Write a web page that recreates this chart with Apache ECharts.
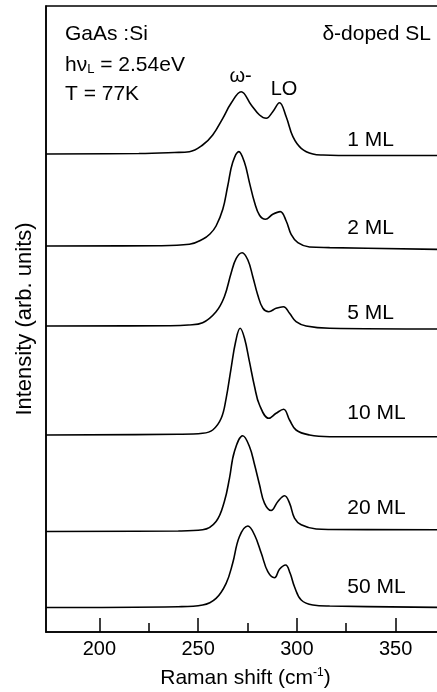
<!DOCTYPE html>
<html>
<head>
<meta charset="utf-8">
<script src="https://cdn.jsdelivr.net/npm/echarts@6/dist/echarts.min.js"></script>
<style>html,body{margin:0;padding:0;background:#fff;}#c{width:437px;height:692px;}</style>
</head>
<body>
<div id="c"></div>
<script>
// Raman shift (cm-1) sample points and intensity (arb. units, relative to each trace's baseline)
const spectrumNames = ['1 ML', '2 ML', '5 ML', '10 ML', '20 ML', '50 ML'];
const baselineOffsets = [478, 386, 306, 197, 100.5, 24.5];

const shift1 = [173, 220, 238, 245.6, 252.3, 257.4, 262.5, 266.7, 271.8, 276.9, 281.1, 284.5, 287.8, 291.2, 294.6, 298, 302.2, 308.1, 313.2, 330, 375];
const int1   = [0, 0.5, 1.5, 2.3, 9, 19, 35.7, 50.7, 62.3, 49, 39, 35.7, 42.3, 51.3, 37.3, 17.3, 5.7, 0, -1, -1.5, -1.5];

const shift2 = [173, 230, 245.6, 252.3, 256, 259.1, 262.5, 265, 267.5, 270.6, 273.5, 276, 278.6, 281.1, 284.1, 287.8, 291.6, 294.6, 297.1, 300.5, 306.4, 316.6, 375];
const int2   = [0, 0.3, 1.7, 6.7, 12, 20, 36.7, 60, 83.4, 94.4, 83.4, 63.4, 43.4, 30.7, 26.7, 31.7, 34.4, 25, 11.7, 3.4, -1, -1.6, -3.5];

const shift5 = [173, 235, 245, 252.3, 259.1, 263.3, 266.7, 269.3, 272.3, 275.2, 277.7, 280.2, 282.8, 285.8, 289.5, 293.2, 296.3, 299.6, 304.7, 316.6, 375];
const int5   = [0, 0.3, 1, 3.3, 14.3, 29.3, 52.7, 67.7, 73.3, 66, 49.3, 31, 17.7, 14.3, 17.7, 19.3, 12.7, 4.3, 0, -2.3, -3];

const shift10 = [173, 240, 252.3, 257.4, 261.7, 264.2, 266.7, 269, 271.3, 273.5, 276, 278.6, 281.1, 285.8, 289.5, 293.3, 296.3, 299.6, 306.4, 316.6, 375];
const int10   = [0, 0.7, 1.7, 5, 16.7, 36.7, 66.7, 93.3, 106.7, 96.7, 73.3, 48.3, 30, 16.7, 21.7, 25.7, 15, 5, 0, -1.7, -1.7];

const shift20 = [173, 240, 252.3, 259.1, 263.3, 265.9, 268.4, 272.6, 276, 278.6, 281.1, 283.6, 287, 290.4, 293.8, 296.3, 298.8, 302.2, 309.8, 316.6, 375];
const int20   = [0, 0.5, 1.7, 10, 30, 53.4, 80, 95.7, 85, 66.7, 46.7, 28.4, 21, 30, 35.7, 28.4, 13.4, 6.7, 2.5, 2, 1.7];

const shift50 = [173, 240, 252.3, 259.1, 264.2, 267.5, 270.9, 275.2, 278.6, 282, 285.3, 288.7, 291.2, 294.3, 296.6, 298.8, 302.2, 308.1, 316.6, 375];
const int50   = [0, 0.8, 2.5, 9.2, 24.2, 44.2, 70.8, 81.5, 72.5, 54.2, 35.8, 29.8, 38.2, 42.5, 34.2, 20.8, 7.5, 2.5, 1.5, 0];

const shifts = [shift1, shift2, shift5, shift10, shift20, shift50];
const intensities = [int1, int2, int5, int10, int20, int50];

// tick labels
const majorTicks = [200, 250, 300, 350];
const minorTicks = [225, 275, 325];

// annotation anchors in data coordinates
const labelShift = 325.5;
const labelLevels = [492, 404, 319, 219, 124, 45];
const peakNames = ['ω-', 'LO'];
const peakAnchors = [[271.5, 556], [293.5, 543]];

const FONT = "'Liberation Sans', Arial, Helvetica, sans-serif";
const chart = echarts.init(document.getElementById('c'), null, {renderer: 'canvas'});

const lineSeries = spectrumNames.map((n, i) => ({
  name: n,
  type: 'line',
  xAxisIndex: 0,
  data: shifts[i].map((x, k) => [x, baselineOffsets[i] + intensities[i][k]]),
  smooth: 0.4,
  showSymbol: false,
  symbol: 'none',
  lineStyle: {color: '#000', width: 1.6},
  silent: true,
  z: 3
}));

const labelSeries = {
  type: 'scatter',
  xAxisIndex: 0,
  symbolSize: 0,
  silent: true,
  itemStyle: {opacity: 1},
  data: spectrumNames.map((n, i) => ({value: [labelShift, labelLevels[i]], name: n})),
  label: {show: true, position: 'right', distance: 0, formatter: p => p.name, opacity: 1,
    fontFamily: FONT, fontSize: 21, color: '#000'}
};

const peakSeries = {
  type: 'scatter',
  xAxisIndex: 0,
  symbolSize: 0,
  silent: true,
  itemStyle: {opacity: 1},
  data: peakNames.map((n, i) => ({value: peakAnchors[i], name: n})),
  label: {show: true, position: 'inside', formatter: p => p.name, opacity: 1,
    fontFamily: FONT, fontSize: 20, color: '#000'}
};

const option = {
  animation: false,
  backgroundColor: '#fff',
  grid: {left: 46, right: -8, top: 6, bottom: 60, show: true, borderColor: '#000', borderWidth: 1.5,
    backgroundColor: 'transparent', outerBoundsMode: 'none', containLabel: false},
  xAxis: [{
    type: 'value', min: 173, max: 375, position: 'bottom',
    axisLine: {show: true, lineStyle: {color: '#000', width: 1.5}},
    axisTick: {show: true, inside: true, length: 14, customValues: majorTicks, lineStyle: {color: '#000', width: 1.5}},
    axisLabel: {show: true, customValues: majorTicks, fontFamily: FONT, fontSize: 20, color: '#000', margin: 7},
    splitLine: {show: false},
    name: '{a|Raman shift (cm}{s|-1}{a|)}',
    nameLocation: 'middle', nameGap: 35,
    nameTextStyle: {rich: {
      a: {fontFamily: FONT, fontSize: 21, color: '#000'},
      s: {fontFamily: FONT, fontSize: 12, color: '#000', verticalAlign: 'top', padding: [0, 0, 10, 0]}
    }}
  }, {
    type: 'value', min: 173, max: 375, position: 'bottom',
    axisLine: {show: false},
    axisTick: {show: true, inside: true, length: 9, customValues: minorTicks, lineStyle: {color: '#000', width: 1.5}},
    axisLabel: {show: false},
    splitLine: {show: false}
  }],
  yAxis: {
    type: 'value', min: 0, max: 626,
    axisLine: {show: true, lineStyle: {color: '#000', width: 1.5}},
    axisTick: {show: false}, axisLabel: {show: false}, splitLine: {show: false},
    name: 'Intensity (arb. units)', nameLocation: 'middle', nameGap: 10, nameRotate: 90,
    nameTextStyle: {fontFamily: FONT, fontSize: 22, color: '#000'}
  },
  graphic: [
    {type: 'text', left: 65, top: 24, style: {text: 'GaAs :Si', font: '21px ' + FONT, fill: '#000'}},
    {type: 'text', left: 65, top: 55, style: {
      text: '{a|hν}{s|L}{a| = 2.54eV}', fill: '#000',
      rich: {a: {fontFamily: FONT, fontSize: 21, fill: '#000'}, s: {fontFamily: FONT, fontSize: 13, fill: '#000', verticalAlign: 'bottom', padding: [8, 0, 0, 0]}}
    }},
    {type: 'text', left: 65, top: 84, style: {text: 'T = 77K', font: '21px ' + FONT, fill: '#000'}},
    {type: 'text', right: 6, top: 24, style: {text: 'δ-doped SL', font: '21px ' + FONT, fill: '#000'}}
  ],
  series: lineSeries.concat([labelSeries, peakSeries])
};
chart.setOption(option);
</script>
</body>
</html>
